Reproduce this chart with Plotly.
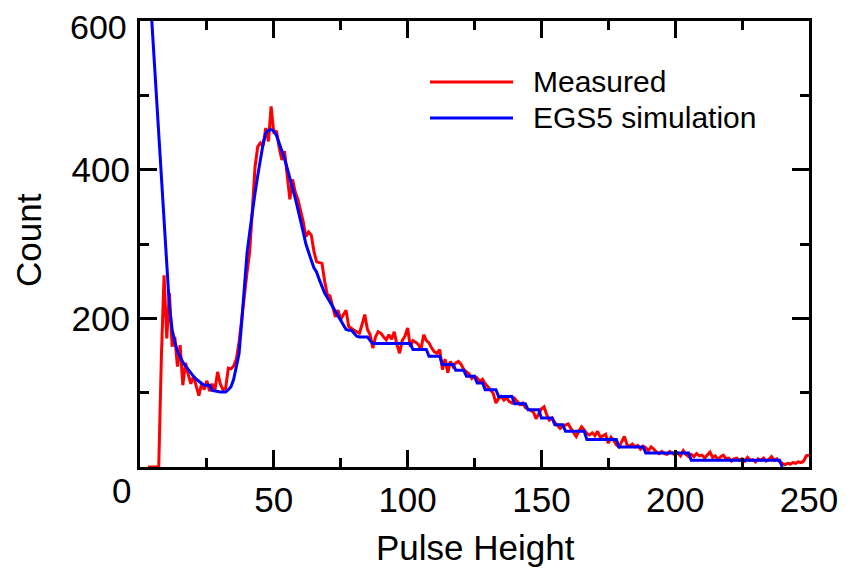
import plotly.graph_objects as go

# ---- data ----
measured_x = list(range(3, 251))
measured_y = [
    0, 0, 0, 0, 0, 150, 258, 173,                      # 3-10
    234, 162, 175, 135, 164, 110, 140, 125, 112, 122,  # 11-20
    108, 96, 112, 104, 116, 102, 112, 104, 128, 112,   # 21-30
    104, 106, 133, 132, 136, 145, 167, 200, 238, 262,  # 31-40
    290, 350, 404, 431, 436, 432, 456, 438, 485, 449,  # 41-50
    452, 430, 413, 425, 396, 360, 387, 370, 360, 345,  # 51-60
    330, 310, 316, 312, 290, 276, 275, 274, 250, 232,  # 61-70
    230, 214, 202, 211, 198, 205, 211, 189, 186, 184,  # 71-80
    182, 180, 192, 205, 185, 178, 160, 175, 182, 180,  # 81-90
    175, 171, 178, 172, 182, 165, 153, 170, 176, 187,  # 91-100
    162, 170, 168, 165, 158, 178, 170, 167, 160, 155,  # 101-110
    153, 158, 131, 145, 127, 142, 135, 140, 142, 138,  # 111-120
    131, 128, 125, 119, 122, 120, 115, 118, 112, 108,  # 121-130
    104, 99, 86, 92, 95, 90, 93, 88, 86, 92,           # 131-140
    88, 84, 86, 80, 78, 76, 74, 65, 72, 78,            # 141-150
    81, 70, 63, 66, 60, 56, 52, 55, 57, 58,            # 151-160
    52, 46, 41, 48, 54, 50, 45, 43, 46, 42,            # 161-170
    48, 40, 42, 44, 32, 40, 36, 30, 27, 34,            # 171-180
    41, 30, 28, 31, 27, 29, 24, 28, 26, 22,            # 181-190
    27, 24, 20, 18, 21, 18, 17, 21, 19, 16,            # 191-200
    19, 15, 22, 17, 14, 17, 14, 18, 15, 16,            # 201-210
    12, 16, 20, 13, 15, 10, 14, 16, 11, 12,            # 211-220
    8, 11, 12, 9, 11, 8, 13, 9, 10, 7,                 # 221-230
    11, 9, 12, 8, 10, 14, 9, 11, 7, 5,                 # 231-240
    3, 5, 4, 6, 5, 7, 6, 8, 15, 16,                    # 241-250
]

sim_x = list(range(4, 241))
sim_y = [
    624, 565, 506, 447, 388, 328, 262, 215, 185, 168,  # 4-13
    156, 148, 141, 136, 131, 127, 122, 118, 115, 112,  # 14-23
    110, 110, 110, 103, 102, 101, 101, 101, 101, 104,  # 24-33
    108, 118, 134, 152, 195, 240, 288, 316, 344, 369,  # 34-43
    392, 416, 435, 449, 453, 454, 452, 446, 436, 425,  # 44-53
    415, 402, 390, 375, 362, 348, 330, 316, 300, 288,  # 54-63
    278, 268, 262, 252, 243, 234, 228, 222, 215, 209,  # 64-73
    204, 197, 192, 185, 184, 184, 180, 176, 175, 175,  # 74-83
    175, 175, 170, 166, 166, 166, 166, 166, 166, 166,  # 84-93
    166, 166, 166, 166, 166, 166, 166, 166, 158, 158,  # 94-103
    158, 158, 158, 158, 149, 149, 149, 149, 149, 138,  # 104-113
    138, 138, 138, 138, 130, 130, 130, 130, 122, 122,  # 114-123
    122, 122, 113, 113, 113, 104, 104, 104, 104, 104,  # 124-133
    95, 95, 95, 95, 95, 95, 85, 85, 85, 85,            # 134-143
    85, 77, 77, 77, 77, 77, 66, 66, 66, 66,            # 144-153
    66, 57, 57, 57, 57, 48, 48, 48, 48, 48,            # 154-163
    48, 48, 48, 37, 37, 37, 37, 37, 37, 37,            # 164-173
    37, 37, 37, 37, 37, 27, 27, 27, 27, 27,            # 174-183
    27, 27, 27, 27, 27, 19, 19, 19, 19, 19,            # 184-193
    19, 19, 19, 19, 19, 19, 19, 19, 19, 19,            # 194-203
    19, 19, 9, 9, 9, 9, 9, 9, 9, 9,                    # 204-213
    9, 9, 9, 9, 9, 9, 9, 9, 9, 9,                      # 214-223
    9, 9, 9, 9, 9, 9, 9, 9, 9, 9,                      # 224-233
    9, 9, 9, 9, 9, 9, 0,                               # 234-240
]

x_ticks = [50, 100, 150, 200, 250]
y_ticks = [200, 400, 600]
y_tick_labels = ["200", "400", ""]   # "600" is placed as its own label just below the top edge
series_names = ["Measured", "EGS5 simulation"]
series_colors = ["#ff0000", "#0000ff"]

FONT = "Liberation Sans, Arial, sans-serif"

fig = go.Figure()
fig.add_trace(go.Scatter(x=measured_x, y=measured_y, mode="lines",
                         line=dict(color=series_colors[0], width=3),
                         name=series_names[0]))
fig.add_trace(go.Scatter(x=sim_x, y=sim_y, mode="lines",
                         line=dict(color=series_colors[1], width=3),
                         name=series_names[1]))

# page body has an 8px margin; compensate so the plot lands where the reference has it
OFF = 8
W, H = 846 - OFF, 570 - OFF
L, T = 140 - OFF, 21 - OFF
pw, ph = 669, 446
R, B = W - L - pw, H - T - ph


def px(x):  # page pixel -> paper
    return (x - OFF - L) / pw


def py(y):  # page pixel -> paper
    return (T + ph - (y - OFF)) / ph


axis_common = dict(showgrid=False, zeroline=False, showline=True, linecolor="black",
                   linewidth=3, mirror="ticks", ticks="inside", ticklen=17,
                   tickwidth=3, tickcolor="black", automargin=False,
                   ticklabeloverflow="allow",
                   tickfont=dict(family=FONT, size=35, color="black"))

fig.update_xaxes(range=[0, 250], tickvals=x_ticks, ticktext=[str(v) for v in x_ticks],
                 minor=dict(ticks="inside", ticklen=9, tickwidth=3, tickcolor="black",
                            tickvals=[25, 75, 125, 175, 225]),
                 **axis_common)
fig.update_yaxes(range=[0, 600], tickvals=y_ticks, ticktext=y_tick_labels,
                 minor=dict(ticks="inside", ticklen=9, tickwidth=3, tickcolor="black",
                            tickvals=[100, 300, 500]),
                 **axis_common)

# legend drawn manually
legend_rows = [82, 118]
for name, color, yy in zip(series_names, series_colors, legend_rows):
    fig.add_shape(type="line", xref="paper", yref="paper",
                  x0=px(430), x1=px(513), y0=py(yy), y1=py(yy),
                  line=dict(color=color, width=3))
    fig.add_annotation(xref="paper", yref="paper", x=px(531), y=py(yy),
                       text=name, showarrow=False, xanchor="left", yanchor="middle",
                       font=dict(family=FONT, size=30, color="black"))

fig.add_annotation(xref="paper", yref="paper", x=px(129), y=py(27.5), text=str(y_ticks[-1]),
                   showarrow=False, xanchor="right", yanchor="middle",
                   font=dict(family=FONT, size=34, color="black"))
fig.add_annotation(xref="paper", yref="paper", x=px(121), y=py(490), text="0",
                   showarrow=False, xanchor="center", yanchor="middle",
                   font=dict(family=FONT, size=35, color="black"))
fig.add_annotation(xref="paper", yref="paper", x=px(475), y=py(547), text="Pulse Height",
                   showarrow=False, xanchor="center", yanchor="middle",
                   font=dict(family=FONT, size=35, color="black"))
fig.add_annotation(xref="paper", yref="paper", x=px(28), y=py(240), text="Count",
                   showarrow=False, xanchor="center", yanchor="middle", textangle=-90,
                   font=dict(family=FONT, size=35, color="black"))

fig.update_layout(width=W, height=H, margin=dict(l=L, r=R, t=T, b=B),
                  plot_bgcolor="white", paper_bgcolor="white", showlegend=False)

fig.write_html("out.html")
